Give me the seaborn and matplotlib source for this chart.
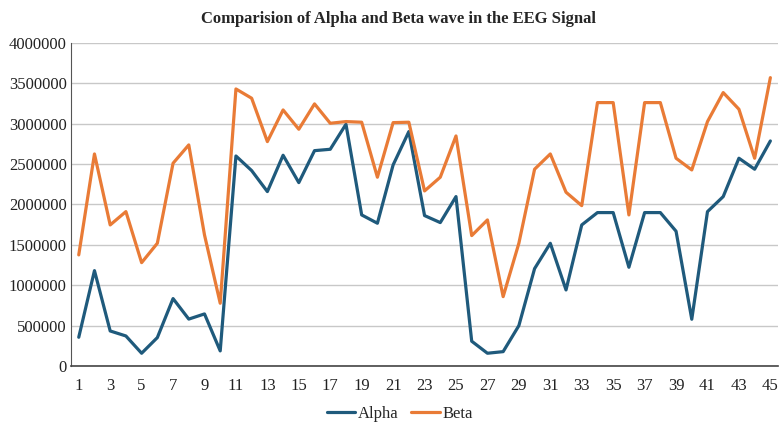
import numpy as np
import pandas as pd
import matplotlib
matplotlib.use("Agg")
import matplotlib.pyplot as plt
import seaborn as sns

# sample index on the x axis
samples = list(range(1, 46))

# wave amplitudes
alpha = [355000, 1180000, 433000, 371000, 157000, 351000, 834000, 580000, 644000, 186000,
         2600000, 2419000, 2159000, 2609000, 2270000, 2666000, 2683000, 2993000, 1870000, 1767000,
         2489000, 2902000, 1862000, 1775000, 2097000, 306000, 157000, 177000, 499000, 1205000,
         1519000, 941000, 1746000, 1899000, 1899000, 1222000, 1899000, 1899000, 1668000, 578000,
         1911000, 2097000, 2572000, 2436000, 2786000]
beta = [1375000, 2625000, 1746000, 1911000, 1279000, 1519000, 2510000, 2737000, 1622000, 776000,
        3430000, 3315000, 2778000, 3170000, 2931000, 3245000, 3005000, 3026000, 3018000, 2337000,
        3013000, 3018000, 2167000, 2337000, 2848000, 1614000, 1808000, 858000, 1519000, 2436000,
        2625000, 2151000, 1985000, 3261000, 3261000, 1870000, 3261000, 3261000, 2572000, 2427000,
        3026000, 3385000, 3179000, 2572000, 3570000]

df = pd.DataFrame({"Sample": samples * 2,
                   "Value": alpha + beta,
                   "Wave": ["Alpha"] * len(alpha) + ["Beta"] * len(beta)})

sns.set_style("white")
plt.rcParams['font.family'] = ['Liberation Serif', 'DejaVu Serif']

fig = plt.figure(figsize=(7.79, 4.25), dpi=100)
ax = fig.add_axes([0.091, 0.139, 0.908, 0.760])

sns.lineplot(data=df, x="Sample", y="Value", hue="Wave",
             palette={"Alpha": "#1F5A7C", "Beta": "#E97B36"},
             linewidth=2.3, ax=ax, legend=True)

# axes styling
ax.set_xlim(0.5, 45.5)
ax.set_ylim(0, 4000000)
ax.set_yticks(np.arange(0, 4000001, 500000))
ax.set_yticklabels([str(v) for v in range(0, 4000001, 500000)], fontsize=12, color="#222222")
ax.yaxis.grid(True, color="#c8c8c8", linewidth=1)
ax.set_axisbelow(True)
ax.tick_params(axis="y", length=0, pad=3)

ax.set_xticks(samples[::2])
ax.set_xticklabels([str(s) for s in samples[::2]], fontsize=12, color="#222222")
ax.set_xticks(np.arange(0.5, 46, 1), minor=True)
ax.tick_params(axis="x", which="major", length=0, pad=9)
ax.tick_params(axis="x", which="minor", length=5, width=1, color="#444444", direction="out")

for side in ["top", "right"]:
    ax.spines[side].set_visible(False)
ax.spines["left"].set_color("#555555")
ax.spines["bottom"].set_color("#444444")
ax.spines["bottom"].set_linewidth(1.2)

ax.set_xlabel("")
ax.set_ylabel("")
fig.suptitle("Comparision of Alpha and Beta wave in the EEG Signal",
             fontsize=12, fontweight="bold", x=0.511, y=0.975)

handles, labels = ax.get_legend_handles_labels()
ax.legend(handles, labels, loc="center", bbox_to_anchor=(0.513, 0.026),
          bbox_transform=fig.transFigure,
          ncol=2, frameon=False, fontsize=12, handlelength=1.7, handletextpad=0.15,
          columnspacing=0.8)

fig.savefig("out.png", dpi=100)
